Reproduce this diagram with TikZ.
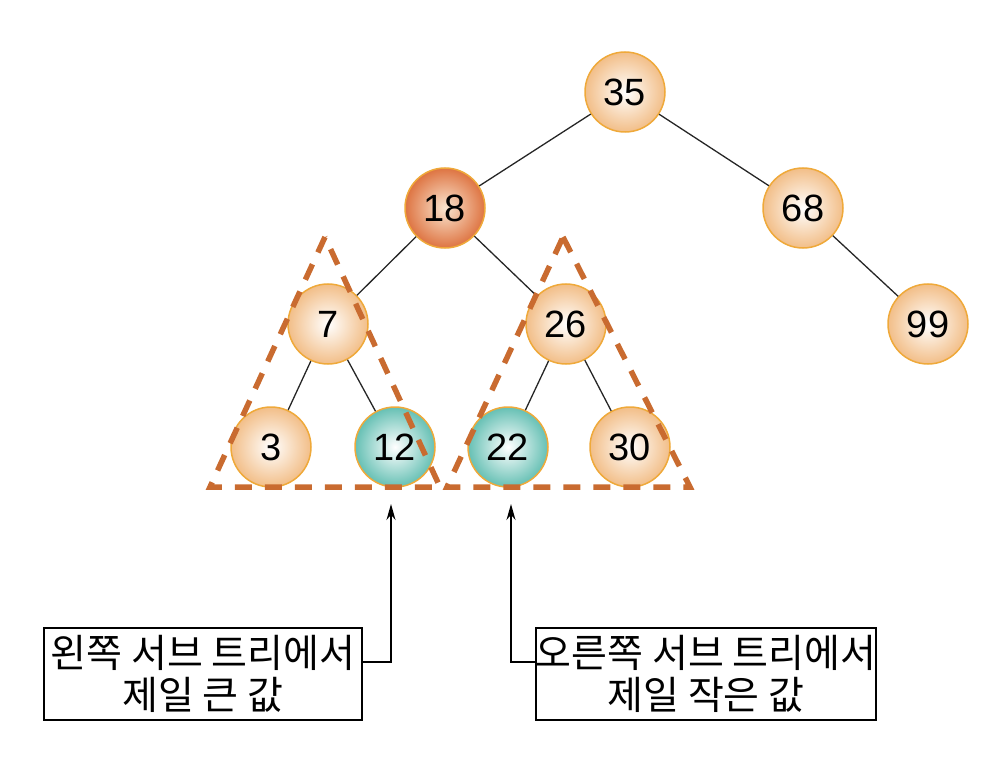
\documentclass[tikz,border=0pt]{standalone}
\usepackage{fontspec}
\setmainfont{Liberation Sans}
\newfontfamily\kr{Noto Sans CJK KR}
\usetikzlibrary{arrows.meta}
\definecolor{nodeedge}{HTML}{EFA93A}
\definecolor{peach}{HTML}{F2BE88}
\definecolor{dkorange}{HTML}{DE7442}
\definecolor{teal}{HTML}{66C0B4}
\definecolor{dashc}{HTML}{C96B30}
\tikzset{
  tnode/.style={circle, draw=nodeedge, line width=1.5pt, minimum size=80pt, inner sep=0pt,
    font=\fontsize{38}{38}\selectfont, shading=radial, inner color=white, outer color=peach},
  rootsel/.style={tnode, inner color=peach!40, outer color=dkorange},
  hit/.style={tnode, inner color=white, outer color=teal},
  edge/.style={draw=black!85, line width=1.3pt},
  dashtri/.style={draw=dashc, line width=5.5pt, dash pattern=on 17pt off 13pt},
  note/.style={draw, line width=1.5pt, minimum height=92pt, align=center,
    inner sep=0pt, font=\kr\fontsize{39}{42}\selectfont},
  pointer/.style={draw, line width=1.5pt, -{Stealth[length=16pt,width=9pt]}}
}
\begin{document}
\begin{tikzpicture}[x=1pt,y=-1pt]
\useasboundingbox (0,0) rectangle (1005,773);
\node[tnode] (n35) at (625,92) {35};
\node[rootsel] (n18) at (445,208) {18};
\node[tnode] (n68) at (803,208) {68};
\node[tnode] (n7) at (328,324) {7};
\node[tnode] (n26) at (566,324) {26};
\node[tnode] (n99) at (928,324) {99};
\node[tnode] (n3) at (271,447) {3};
\node[hit] (n12) at (395,447) {12};
\node[hit] (n22) at (508,447) {22};
\node[tnode] (n30) at (630,447) {30};
\draw[edge] (n35) -- (n18);
\draw[edge] (n35) -- (n68);
\draw[edge] (n18) -- (n7);
\draw[edge] (n18) -- (n26);
\draw[edge] (n68) -- (n99);
\draw[edge] (n7) -- (n3);
\draw[edge] (n7) -- (n12);
\draw[edge] (n26) -- (n22);
\draw[edge] (n26) -- (n30);
\coordinate (la) at (325,237);
\coordinate (lb) at (210,487);
\coordinate (lc) at (440,487);
\coordinate (ra) at (563,237);
\coordinate (rb) at (447,487);
\coordinate (rc) at (690,487);
\draw[dashtri] (la) -- (lb) -- (lc) -- cycle;
\draw[dashtri] (ra) -- (rc) -- (rb) -- cycle;
\node[note, minimum width=318pt] (lbox) at (203,674) {왼쪽 서브 트리에서\\제일 큰 값};
\node[note, minimum width=340pt] (rbox) at (706,674) {오른쪽 서브 트리에서\\제일 작은 값};
\coordinate (lt) at (391,504);
\coordinate (rt) at (511,504);
\draw[pointer] (lbox.east |- 0,662) -| (lt);
\draw[pointer] (rbox.west |- 0,662) -| (rt);
\end{tikzpicture}
\end{document}
